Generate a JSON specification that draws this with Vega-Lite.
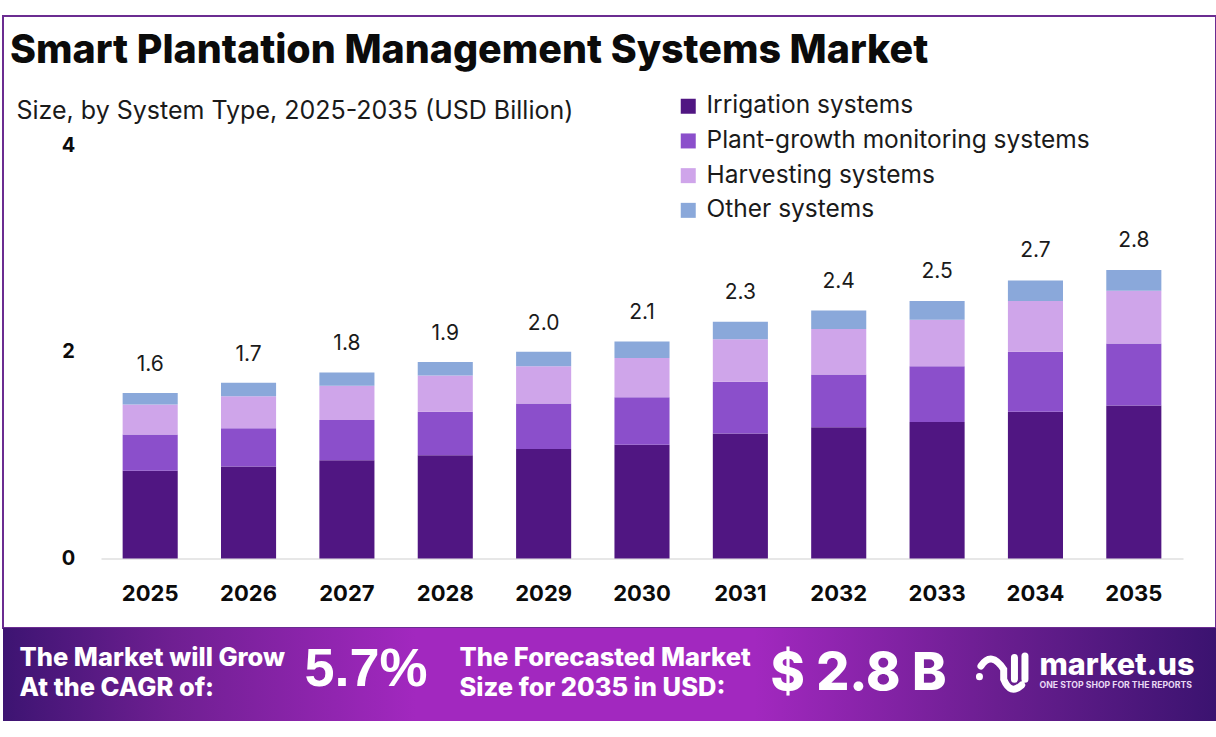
{
  "$schema": "https://vega.github.io/schema/vega-lite/v6.json",
  "background": "white",
  "padding": {"left": 2, "top": 15, "right": 1, "bottom": 17},
  "bounds": "flush",
  "spacing": 0,
  "config": {"font": "Inter", "view": {"stroke": null}},
  "datasets": {
    "segments": [
      {"year": "2025", "system": "Irrigation systems", "value": 0.85},
      {"year": "2025", "system": "Plant-growth monitoring systems", "value": 0.35},
      {"year": "2025", "system": "Harvesting systems", "value": 0.29},
      {"year": "2025", "system": "Other systems", "value": 0.11},
      {"year": "2026", "system": "Irrigation systems", "value": 0.89},
      {"year": "2026", "system": "Plant-growth monitoring systems", "value": 0.37},
      {"year": "2026", "system": "Harvesting systems", "value": 0.31},
      {"year": "2026", "system": "Other systems", "value": 0.13},
      {"year": "2027", "system": "Irrigation systems", "value": 0.95},
      {"year": "2027", "system": "Plant-growth monitoring systems", "value": 0.39},
      {"year": "2027", "system": "Harvesting systems", "value": 0.33},
      {"year": "2027", "system": "Other systems", "value": 0.13},
      {"year": "2028", "system": "Irrigation systems", "value": 1.0},
      {"year": "2028", "system": "Plant-growth monitoring systems", "value": 0.42},
      {"year": "2028", "system": "Harvesting systems", "value": 0.35},
      {"year": "2028", "system": "Other systems", "value": 0.13},
      {"year": "2029", "system": "Irrigation systems", "value": 1.06},
      {"year": "2029", "system": "Plant-growth monitoring systems", "value": 0.44},
      {"year": "2029", "system": "Harvesting systems", "value": 0.36},
      {"year": "2029", "system": "Other systems", "value": 0.14},
      {"year": "2030", "system": "Irrigation systems", "value": 1.1},
      {"year": "2030", "system": "Plant-growth monitoring systems", "value": 0.46},
      {"year": "2030", "system": "Harvesting systems", "value": 0.38},
      {"year": "2030", "system": "Other systems", "value": 0.16},
      {"year": "2031", "system": "Irrigation systems", "value": 1.21},
      {"year": "2031", "system": "Plant-growth monitoring systems", "value": 0.5},
      {"year": "2031", "system": "Harvesting systems", "value": 0.41},
      {"year": "2031", "system": "Other systems", "value": 0.17},
      {"year": "2032", "system": "Irrigation systems", "value": 1.27},
      {"year": "2032", "system": "Plant-growth monitoring systems", "value": 0.51},
      {"year": "2032", "system": "Harvesting systems", "value": 0.44},
      {"year": "2032", "system": "Other systems", "value": 0.18},
      {"year": "2033", "system": "Irrigation systems", "value": 1.32},
      {"year": "2033", "system": "Plant-growth monitoring systems", "value": 0.54},
      {"year": "2033", "system": "Harvesting systems", "value": 0.45},
      {"year": "2033", "system": "Other systems", "value": 0.18},
      {"year": "2034", "system": "Irrigation systems", "value": 1.42},
      {"year": "2034", "system": "Plant-growth monitoring systems", "value": 0.58},
      {"year": "2034", "system": "Harvesting systems", "value": 0.49},
      {"year": "2034", "system": "Other systems", "value": 0.2},
      {"year": "2035", "system": "Irrigation systems", "value": 1.48},
      {"year": "2035", "system": "Plant-growth monitoring systems", "value": 0.6},
      {"year": "2035", "system": "Harvesting systems", "value": 0.51},
      {"year": "2035", "system": "Other systems", "value": 0.2}
    ],
    "totals": [
      {"year": "2025", "total": 1.6},
      {"year": "2026", "total": 1.7},
      {"year": "2027", "total": 1.8},
      {"year": "2028", "total": 1.9},
      {"year": "2029", "total": 2.0},
      {"year": "2030", "total": 2.1},
      {"year": "2031", "total": 2.3},
      {"year": "2032", "total": 2.4},
      {"year": "2033", "total": 2.5},
      {"year": "2034", "total": 2.7},
      {"year": "2035", "total": 2.8}
    ]
  },
  "vconcat": [
    {
      "width": 1213,
      "height": 612,
      "view": {"stroke": "#6b2c91", "strokeWidth": 2},
      "title": {
        "text": "Smart Plantation Management Systems Market",
        "anchor": "start",
        "frame": "group",
        "orient": "top",
        "offset": -55,
        "dx": 7,
        "font": "Inter",
        "fontSize": 39.4,
        "fontWeight": 800,
        "color": "#0b0b0b"
      },
      "layer": [
        {
          "data": {"name": "segments"},
          "transform": [
            {"calculate": "indexof(['Irrigation systems', 'Plant-growth monitoring systems', 'Harvesting systems', 'Other systems'], datum.system)", "as": "rank"}
          ],
          "mark": {"type": "bar"},
          "encoding": {
            "x": {
              "field": "year",
              "type": "nominal",
              "title": null,
              "scale": {"range": [98, 1180], "paddingInner": 0.44, "paddingOuter": 0.22},
              "axis": {
                "orient": "bottom",
                "offset": -69.5,
                "labelAngle": 0,
                "ticks": false,
                "grid": false,
                "domainColor": "#cfcfcf",
                "labelPadding": 25,
                "labelFontSize": 22,
                "labelFontWeight": 700,
                "labelColor": "#0b0b0b",
                "labelFont": "Inter"
              }
            },
            "y": {
              "field": "value",
              "type": "quantitative",
              "aggregate": "sum",
              "title": null,
              "scale": {"domain": [0, 4], "range": [542.5, 129], "nice": false},
              "axis": {
                "values": [0, 2, 4],
                "format": "d",
                "offset": -65,
                "grid": false,
                "ticks": false,
                "domain": false,
                "labelPadding": 0,
                "labelAlign": "center",
                "labelFontSize": 20,
                "labelFontWeight": 700,
                "labelColor": "#0b0b0b",
                "labelFont": "Inter"
              }
            },
            "color": {
              "field": "system",
              "type": "nominal",
              "scale": {
                "domain": ["Irrigation systems", "Plant-growth monitoring systems", "Harvesting systems", "Other systems"],
                "range": ["#501682", "#8b4fcb", "#cfa5ea", "#8aa8da"]
              },
              "legend": {
                "orient": "none",
                "legendX": 673,
                "legendY": 78,
                "title": null,
                "symbolType": "square",
                "symbolSize": 225,
                "symbolStrokeWidth": 0,
                "symbolOpacity": 1,
                "labelFont": "Inter",
                "labelFontSize": 24.5,
                "labelColor": "#1a1a1a",
                "labelOffset": 6,
                "labelLimit": 500,
                "rowPadding": 9.7
              }
            },
            "order": {"field": "rank", "type": "quantitative"}
          }
        },
        {
          "data": {"name": "totals"},
          "mark": {"type": "text", "dy": -28, "fontSize": 21, "color": "#1a1a1a", "font": "Inter"},
          "encoding": {
            "x": {"field": "year", "type": "nominal"},
            "y": {"field": "total", "type": "quantitative"},
            "text": {"field": "total", "type": "quantitative", "format": ".1f"}
          }
        },
        {
          "data": {"values": [{"label": "Size, by System Type, 2025-2035 (USD Billion)"}]},
          "mark": {"type": "text", "align": "left", "baseline": "middle", "dx": -593, "dy": -211, "fontSize": 25, "color": "#1a1a1a", "font": "Inter"},
          "encoding": {"text": {"field": "label"}}
        }
      ]
    },
    {
      "width": 1213,
      "height": 93,
      "data": {
        "values": [
          {"block": "grow", "label": "The Market will Grow|At the CAGR of:"},
          {"block": "forecast", "label": "The Forecasted Market|Size for 2035 in USD:"},
          {"block": "cagr", "label": "5.7%"},
          {"block": "size", "label": "$ 2.8 B"},
          {"block": "brand", "label": "market.us"},
          {"block": "tagline", "label": "ONE STOP SHOP FOR THE REPORTS"}
        ]
      },
      "layer": [
        {
          "data": {"values": [{"band": "banner"}]},
          "mark": {
            "type": "rect",
            "color": {
              "gradient": "linear",
              "x1": 0, "x2": 1, "y1": 0, "y2": 0,
              "stops": [
                {"offset": 0, "color": "#3d1472"},
                {"offset": 0.14, "color": "#6f1f92"},
                {"offset": 0.34, "color": "#a228bf"},
                {"offset": 0.62, "color": "#a228bf"},
                {"offset": 0.82, "color": "#6a1e90"},
                {"offset": 1, "color": "#3b1370"}
              ]
            }
          }
        },
        {
          "transform": [{"filter": "datum.block == 'grow'"}],
          "mark": {"type": "text", "align": "left", "baseline": "middle", "lineBreak": "|", "lineHeight": 30, "dx": -590, "dy": -17, "fontSize": 25.5, "fontWeight": 800, "color": "white", "font": "Inter"},
          "encoding": {"text": {"field": "label"}}
        },
        {
          "transform": [{"filter": "datum.block == 'forecast'"}],
          "mark": {"type": "text", "align": "left", "baseline": "middle", "lineBreak": "|", "lineHeight": 30, "dx": -150, "dy": -17, "fontSize": 25.5, "fontWeight": 800, "color": "white", "font": "Inter"},
          "encoding": {"text": {"field": "label"}}
        },
        {
          "transform": [{"filter": "datum.block == 'cagr'"}],
          "mark": {"type": "text", "align": "left", "baseline": "middle", "dx": -305, "dy": -5, "fontSize": 54, "fontWeight": 700, "color": "white", "font": "Liberation Sans"},
          "encoding": {"text": {"field": "label"}}
        },
        {
          "transform": [{"filter": "datum.block == 'size'"}],
          "mark": {"type": "text", "align": "left", "baseline": "middle", "dx": 161, "dy": -1, "fontSize": 52, "fontWeight": 800, "color": "white", "font": "Inter"},
          "encoding": {"text": {"field": "label"}}
        },
        {
          "transform": [{"filter": "datum.block == 'brand'"}],
          "mark": {"type": "text", "align": "left", "baseline": "middle", "dx": 430, "dy": -9, "fontSize": 30.6, "fontWeight": 800, "color": "white", "font": "Inter"},
          "encoding": {"text": {"field": "label"}}
        },
        {
          "transform": [{"filter": "datum.block == 'tagline'"}],
          "mark": {"type": "text", "align": "left", "baseline": "middle", "dx": 430, "dy": 10, "fontSize": 8.7, "fontWeight": 700, "color": "#e9d8f4", "font": "Inter"},
          "encoding": {"text": {"field": "label"}}
        },
        {
          "transform": [{"filter": "datum.block == 'brand'"}],
          "mark": {
            "type": "point",
            "filled": false,
            "size": 2500,
            "opacity": 1,
            "stroke": "white",
            "strokeWidth": 7,
            "strokeCap": "round",
            "shape": "M-0.87 -0.33 Q-0.45 -0.95 0.04 -0.2 L0.04 0.2 Q0.3 0.85 0.76 0.43 M0.47 -0.67 L0.47 0.2 M0.89 -0.73 L0.89 0.2 M-0.93 0.09 L-0.93 0.1"
          },
          "encoding": {
            "x": {"field": "block", "type": "nominal", "axis": null, "scale": {"domain": ["brand"], "range": [999.7, 999.7]}},
            "y": {"field": "block", "type": "nominal", "axis": null, "scale": {"domain": ["brand"], "range": [46.3, 46.3]}}
          }
        }
      ]
    }
  ]
}
